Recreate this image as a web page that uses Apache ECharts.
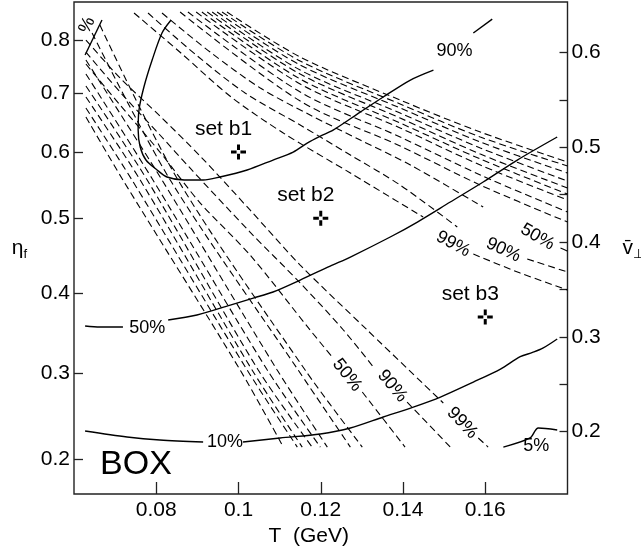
<!DOCTYPE html>
<html><head><meta charset="utf-8">
<script src="https://cdn.jsdelivr.net/npm/echarts@6/dist/echarts.min.js"></script>
<style>html,body{margin:0;padding:0;background:#fff}#c{width:641px;height:546px}</style>
</head><body><div id="c"></div>
<script>
// ---- axes ----
const xRange = [0.06, 0.18];
const vRange = [0.1342, 0.6532];           // v-bar-perp scale (right axis, linear)
const xTicks = [0.08, 0.10, 0.12, 0.14, 0.16];
const etaTicks = [0.2, 0.3, 0.4, 0.5, 0.6, 0.7, 0.8];
const etaTickAtV = [0.171, 0.262, 0.346, 0.425, 0.495, 0.557, 0.613];
const vTicks = [0.2, 0.3, 0.4, 0.5, 0.6];
const vMinor = [0.25, 0.35, 0.45, 0.55];

// ---- parameter sets (T, eta_f) ----
const setNames = ['set b1', 'set b2', 'set b3'];
const setT = [0.10, 0.12, 0.16];
const setEta = [0.60, 0.50, 0.37];

// ---- solid contours (T, v) ----
const solid90 = [
 [[0.0836,0.6342],[0.0814,0.6205],[0.0790,0.5920],[0.0770,0.5635],[0.0758,0.5392],[0.0756,0.5181],[0.0761,0.5002],[0.0775,0.4865],[0.0802,0.4760],[0.0826,0.4686],[0.0868,0.4654],[0.0914,0.4654],[0.0955,0.4686],[0.1021,0.4760],[0.1084,0.4865],[0.1133,0.4949],[0.1167,0.5044],[0.1199,0.5118],[0.1230,0.5181],[0.1296,0.5371],[0.1352,0.5530],[0.1418,0.5709],[0.1474,0.5814]],
 [[0.1571,0.6205],[0.1617,0.6352]]
];
const solid50 = [
 [[0.0627,0.3114],[0.0663,0.3103],[0.0719,0.3103]],
 [[0.0829,0.3177],[0.0899,0.3230],[0.0980,0.3335],[0.1036,0.3409],[0.1084,0.3473],[0.1150,0.3599],[0.1223,0.3747],[0.1272,0.3842],[0.1369,0.4053],[0.1435,0.4211],[0.1515,0.4422],[0.1595,0.4633],[0.1678,0.4865],[0.1775,0.5108]]
];
const solid10 = [
 [[0.0627,0.2006],[0.0729,0.1943],[0.0809,0.1911],[0.0914,0.1890]],
 [[0.1011,0.1890],[0.1101,0.1933],[0.1199,0.1975],[0.1272,0.2038],[0.1352,0.2154],[0.1425,0.2259],[0.1491,0.2365],[0.1571,0.2523],[0.1637,0.2660],[0.1685,0.2790],[0.1715,0.2835],[0.1740,0.2880],[0.1775,0.2977]]
];
const solid5 = [[[0.1644,0.1837],[0.1709,0.1933],[0.1729,0.2038],[0.1775,0.2017]]];
const solidCorner = [[[0.0668,0.6342],[0.0627,0.5973]]];

const solidLabelText = ['90%', '50%', '10%', '5%', '%'];
const solidLabelPos = [[0.1525,0.6015],[0.0778,0.3093],[0.0967,0.1890],[0.1724,0.1848],[0.0632,0.6289]];
const solidLabelRot = [0, 0, 0, 0, 65];

// ---- dashed contours (T, v) ----
const dashSteep = [
 [[0.0629,0.5319],[0.0719,0.4654],[0.1004,0.2650],[0.1109,0.1837]],
 [[0.0629,0.5414],[0.0741,0.4654],[0.1021,0.2650],[0.1143,0.1837]],
 [[0.0629,0.5530],[0.0761,0.4654],[0.1033,0.2650],[0.1155,0.1837]],
 [[0.0629,0.5646],[0.0778,0.4654],[0.1048,0.2650],[0.1179,0.1837]],
 [[0.0629,0.5772],[0.0792,0.4654],[0.1070,0.2650],[0.1199,0.1837]],
 [[0.0629,0.5920],[0.0814,0.4654],[0.1094,0.2650],[0.1216,0.1837]],
 [[0.0644,0.6205],[0.0834,0.4654],[0.1145,0.2650],[0.1272,0.1837]],
 [[0.0663,0.6289],[0.0853,0.4654],[0.1162,0.2650],[0.1301,0.1837]]
];
const dashUpper = [
 [[0.0972,0.6426],[0.1150,0.5952],[0.1393,0.5498],[0.1588,0.5160],[0.1800,0.4844]],
 [[0.0960,0.6426],[0.1150,0.5910],[0.1393,0.5456],[0.1588,0.5108],[0.1800,0.4802]],
 [[0.0948,0.6426],[0.1150,0.5867],[0.1393,0.5414],[0.1588,0.5055],[0.1800,0.4728]],
 [[0.0936,0.6426],[0.1150,0.5814],[0.1393,0.5361],[0.1588,0.4992],[0.1800,0.4643]],
 [[0.0924,0.6426],[0.1150,0.5772],[0.1393,0.5308],[0.1588,0.4928],[0.1800,0.4570]],
 [[0.0911,0.6426],[0.1150,0.5720],[0.1393,0.5255],[0.1588,0.4876],[0.1800,0.4506]],
 [[0.0897,0.6426],[0.1150,0.5667],[0.1393,0.5203],[0.1588,0.4812],[0.1800,0.4443]],
 [[0.0877,0.6426],[0.1150,0.5582],[0.1393,0.5108],[0.1588,0.4707],[0.1800,0.4316]],
 [[0.0858,0.6426],[0.1150,0.5487],[0.1393,0.5013],[0.1588,0.4601],[0.1800,0.4211]]
];
const dashU99 = [
 [[0.0746,0.6416],[0.0860,0.5994],[0.0982,0.5530],[0.1109,0.5150],[0.1272,0.4728],[0.1449,0.4264]],
 [[0.1571,0.3873],[0.1685,0.3673],[0.1800,0.3494]]
];
const dashU90 = [
 [[0.0780,0.6416],[0.0897,0.5973],[0.1016,0.5572],[0.1150,0.5234],[0.1272,0.4918],[0.1393,0.4601],[0.1532,0.4158]],
 [[0.1702,0.3821],[0.1800,0.3684]]
];
const dashU50 = [
 [[0.0814,0.6416],[0.0931,0.6004],[0.1053,0.5625],[0.1174,0.5340],[0.1296,0.5076],[0.1418,0.4812],[0.1595,0.4369]],
 [[0.1783,0.3937],[0.1800,0.3905]]
];
const dashL50 = [
 [[0.0629,0.5878],[0.0712,0.5445],[0.0809,0.4949],[0.0907,0.4411],[0.1028,0.3863],[0.1174,0.3072],[0.1228,0.2787]],
 [[0.1301,0.2418],[0.1405,0.1837]]
];
const dashL90 = [
 [[0.0629,0.6004],[0.0712,0.5582],[0.0809,0.5129],[0.0882,0.4781],[0.1028,0.4105],[0.1150,0.3568],[0.1255,0.3072],[0.1328,0.2681]],
 [[0.1410,0.2312],[0.1515,0.1837]]
];
const dashL99 = [
 [[0.0629,0.6131],[0.0712,0.5730],[0.0809,0.5329],[0.0909,0.4897],[0.1028,0.4338],[0.1150,0.3757],[0.1313,0.3072],[0.1498,0.2302]],
 [[0.1583,0.1933],[0.1607,0.1837]]
];
const dashLabelText = ['99%', '90%', '50%', '50%', '90%', '99%'];
const dashLabelPos = [[0.1522,0.3979],[0.1644,0.3916],[0.1727,0.4053],[0.1264,0.2597],[0.1374,0.2481],[0.1544,0.2091]];
const dashLabelRot = [-29, -25, -30, -52, -50, -47];

// ---- build ----
const FONT = 'Liberation Sans, Arial, Helvetica, sans-serif';
function etaToV(e) {
  for (let i = 0; i < etaTicks.length - 1; i++) {
    if (e <= etaTicks[i + 1] || i === etaTicks.length - 2) {
      const t = (e - etaTicks[i]) / (etaTicks[i + 1] - etaTicks[i]);
      return etaTickAtV[i] + t * (etaTickAtV[i + 1] - etaTickAtV[i]);
    }
  }
}
const series = [];
function addCurves(segs, dashed) {
  segs.forEach(seg => series.push({
    type: 'line', data: seg, showSymbol: false, smooth: 0.3, silent: true, clip: true,
    z: dashed ? 2 : 3,
    lineStyle: { color: '#000', width: dashed ? 1.1 : 1.4, type: dashed ? [7, 4] : 'solid', opacity: 1 }
  }));
}
[solid90, solid50, solid10, solid5, solidCorner].forEach(s => addCurves(s, false));
addCurves(dashSteep, true);
addCurves(dashUpper, true);
[dashU99, dashU90, dashU50, dashL50, dashL90, dashL99].forEach(s => addCurves(s, true));

const txt = (size) => ({ color: '#000', opacity: 1, fontSize: size, fontFamily: FONT, textBorderWidth: 0, fontWeight: 'normal' });
function labelSeries(texts, pos, rots, size) {
  return {
    type: 'scatter', symbolSize: 0, silent: true, z: 5, itemStyle: { opacity: 1 },
    data: texts.map((t, i) => ({ name: t, value: pos[i], label: { rotate: rots[i] } })),
    label: Object.assign({ show: true, position: 'inside', formatter: p => p.name }, txt(size))
  };
}
series.push(labelSeries(solidLabelText, solidLabelPos, solidLabelRot, 18));
series.push(labelSeries(dashLabelText, dashLabelPos, dashLabelRot, 18));

series.push({
  type: 'scatter', z: 6, silent: true,
  symbol: 'path://M6,0H9V5.6H6Z M6,9.4H9V15H6Z M0,6H5.6V9H0Z M9.4,6H15V9H9.4Z',
  symbolSize: 15, itemStyle: { color: '#000', opacity: 1 },
  data: setNames.map((n, i) => ({ name: n, value: [setT[i], etaToV(setEta[i])] })),
  label: Object.assign({ show: true, position: 'top', distance: 5, offset: [-15, 0], formatter: p => p.name }, txt(21))
});

const chart = echarts.init(document.getElementById('c'), null, { renderer: 'canvas' });
const near = (arr, v) => arr.findIndex(a => Math.abs(a - v) < 1e-6);
chart.setOption({
  animation: false,
  backgroundColor: '#fff',
  grid: { left: 74, right: 73.5, top: 2, bottom: 52, outerBoundsMode: 'none', containLabel: false,
          show: true, borderColor: '#222', borderWidth: 1.4, backgroundColor: 'transparent' },
  xAxis: {
    type: 'value', min: xRange[0], max: xRange[1],
    axisLine: { show: false }, splitLine: { show: false },
    axisTick: { show: true, inside: true, length: 12, customValues: xTicks, lineStyle: { color: '#222', width: 1.3 } },
    axisLabel: Object.assign({ customValues: xTicks, margin: 6, formatter: v => String(+v.toFixed(3)) }, txt(21)),
    name: 'T  (GeV)', nameLocation: 'middle', nameGap: 24,
    nameTextStyle: Object.assign({ padding: [0, 24, 0, 0] }, txt(21))
  },
  yAxis: [
    {
      type: 'value', position: 'left', min: vRange[0], max: vRange[1],
      axisLine: { show: false }, splitLine: { show: false },
      axisTick: { show: true, inside: true, length: 9, customValues: etaTickAtV, lineStyle: { color: '#222', width: 1.3 } },
      axisLabel: Object.assign({ customValues: etaTickAtV, margin: 4,
        formatter: v => { const i = near(etaTickAtV, v); return i >= 0 ? etaTicks[i].toFixed(1) : ''; } }, txt(21)),
      name: '{a|η}{b|f}', nameLocation: 'middle', nameGap: 47, nameRotate: 0,
      nameTextStyle: { rich: { a: Object.assign({ lineHeight: 26 }, txt(21)), b: Object.assign({ lineHeight: 14, verticalAlign: 'bottom' }, txt(13)) } }
    },
    {
      type: 'value', position: 'right', min: vRange[0], max: vRange[1],
      axisLine: { show: false }, splitLine: { show: false },
      axisTick: { show: true, inside: true, length: 8, customValues: vTicks.concat(vMinor), lineStyle: { color: '#222', width: 1.3 } },
      axisLabel: Object.assign({ customValues: vTicks, margin: 4, formatter: v => v.toFixed(1) }, txt(21)),
      name: '{a|v\u0304}{b|⊥}', nameLocation: 'middle', nameGap: 55, nameRotate: 0,
      nameTextStyle: { rich: { a: Object.assign({ lineHeight: 26 }, txt(21)), b: Object.assign({ lineHeight: 14, verticalAlign: 'bottom' }, txt(13), { fontFamily: 'DejaVu Sans' }) } }
    }
  ],
  graphic: [{ type: 'text', x: 136, y: 465, style: { text: 'BOX', fontSize: 34, fontFamily: FONT, fill: '#000', align: 'center', verticalAlign: 'middle' } }],
  series: series
});
</script></body></html>
